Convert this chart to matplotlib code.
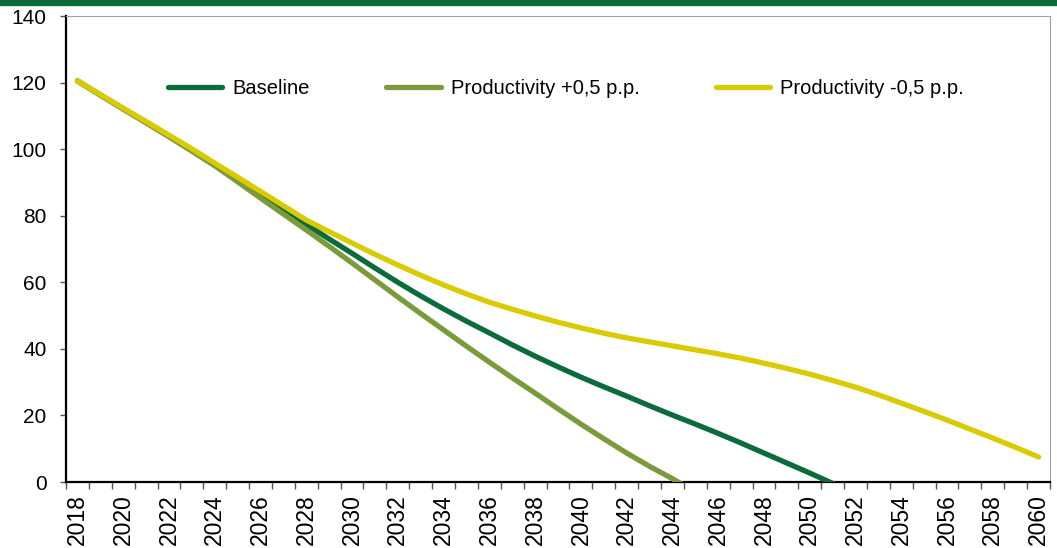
import numpy as np
import matplotlib
matplotlib.use("Agg")
import matplotlib.pyplot as plt
from matplotlib import font_manager

# -----------------------
# Data
# -----------------------
years = list(range(2018, 2061))

baseline = [120.5, 116.3, 112.2, 108.1, 104.0, 99.8, 95.5, 90.9, 86.3, 81.8,
            77.4, 73.0, 68.7, 64.3, 60.0, 55.9, 52.0, 48.3, 44.8, 41.2,
            37.8, 34.6, 31.5, 28.6, 25.8, 22.9, 20.1, 17.4, 14.6, 11.7,
            8.7, 5.7, 2.7, -0.4, -3.5]

prod_plus = [120.5, 116.2, 112.0, 107.9, 103.7, 99.4, 95.0, 90.2, 85.3, 80.5,
             75.7, 70.8, 65.8, 60.7, 55.6, 50.6, 45.7, 40.8, 36.0, 31.3,
             26.7, 22.0, 17.4, 13.0, 8.7, 4.7, 1.0, -3.0]

prod_minus = [120.5, 116.4, 112.3, 108.3, 104.2, 100.1, 95.8, 91.6, 87.3, 83.0,
              78.7, 75.2, 71.8, 68.4, 65.2, 62.1, 59.2, 56.5, 54.0, 51.9,
              49.9, 48.0, 46.3, 44.7, 43.3, 42.1, 40.9, 39.7, 38.5, 37.2,
              35.7, 34.1, 32.4, 30.5, 28.5, 26.2, 23.7, 21.2, 18.6, 15.9,
              13.2, 10.4, 7.5]

series_names = ["Baseline", "Productivity +0,5 p.p.", "Productivity -0,5 p.p."]
series_colors = ["#0b6b3a", "#7a9a3c", "#d9cb00"]

# -----------------------
# Figure
# -----------------------
plt.rcParams['font.family'] = ['Liberation Sans', 'DejaVu Sans']
names = {f.name for f in font_manager.fontManager.ttflist}
legend_family = 'Liberation Sans Narrow' if 'Liberation Sans Narrow' in names else 'Liberation Sans'

fig = plt.figure(figsize=(10.57, 5.48), dpi=100)
ax = fig.add_axes([66 / 1057, 1 - 482 / 548, 984 / 1057, 466 / 548])

# green band at the top of the figure
fig.patches.append(plt.Rectangle((0, 1 - 5 / 548), 1, 5 / 548, transform=fig.transFigure,
                                 color="#0b6b3a", zorder=0))

handles = []
for vals, name, col in zip([baseline, prod_plus, prod_minus], series_names, series_colors):
    x = np.arange(len(vals))
    h, = ax.plot(x, vals, color=col, lw=3.8, solid_capstyle='round', label=name, zorder=3)
    handles.append(h)

ax.set_ylim(0, 140)
ax.set_xlim(-0.5, len(years) - 0.5)
ax.set_yticks(range(0, 141, 20))

# tick marks at category boundaries, labels every 2 years
ax.set_xticks(np.arange(len(years) + 1) - 0.5)
ax.set_xticklabels([])
ax.set_xticks(np.arange(0, len(years), 2), minor=True)
ax.set_xticklabels([str(y) for y in years[::2]], minor=True, rotation=90, fontsize=16.5)
ax.tick_params(axis='x', which='major', direction='out', length=5, width=1, color='#555555')
ax.tick_params(axis='x', which='minor', length=0, pad=9)
ax.tick_params(axis='y', direction='out', length=4.5, width=1, color='#555555', labelsize=15, pad=9.5)

for side in ['left', 'bottom']:
    ax.spines[side].set_linewidth(1.6)
    ax.spines[side].set_color('black')
for side in ['top', 'right']:
    ax.spines[side].set_linewidth(0.8)
    ax.spines[side].set_color('#a0a0a0')

fig.legend(handles=handles, loc='center', bbox_to_anchor=(566 / 1057, 1 - 89 / 548),
           ncol=3, frameon=False, handlelength=2.7, handletextpad=0.5,
           columnspacing=3.8, prop={'family': legend_family, 'size': 14.5})

fig.savefig("out.png", dpi=100)
